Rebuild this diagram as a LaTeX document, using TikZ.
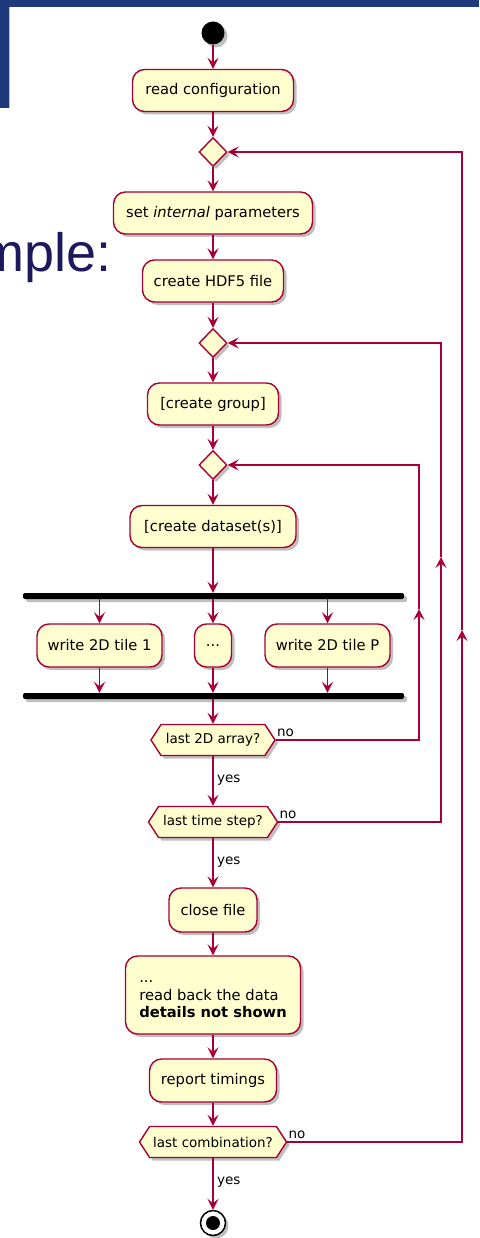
\documentclass[tikz,border=0pt]{standalone}
\usepackage{fontspec}
\setmainfont{DejaVu Sans}
\newfontfamily\slidefont{Liberation Sans}
\usetikzlibrary{shapes.geometric,shapes.symbols,shadows,arrows.meta,calc}

\definecolor{umlred}{HTML}{A80036}
\definecolor{umlfill}{HTML}{FEFECE}
\definecolor{slideblue}{HTML}{1F3A7B}
\definecolor{slideline}{HTML}{AEBFE6}
\definecolor{slidetext}{HTML}{1C1A5C}

\tikzset{
  umlshadow/.style={drop shadow={shadow xshift=3pt, shadow yshift=-3pt, opacity=0.25, fill=black}},
  act/.style={draw=umlred, fill=umlfill, line width=1.4pt, rounded corners=12pt,
    inner sep=0pt, minimum height=42pt, font=\fontsize{14.7}{17.5}\selectfont, umlshadow},
  cond/.style={draw=umlred, fill=umlfill, line width=1.4pt, shape=signal,
    signal to=east and west, signal pointer angle=114, inner sep=0pt,
    minimum height=31pt, font=\fontsize{13.5}{16}\selectfont, umlshadow},
  merge/.style={draw=umlred, fill=umlfill, line width=1.4pt, shape=diamond, aspect=1,
    inner sep=0pt, minimum width=28pt, minimum height=29pt, umlshadow},
  syncbar/.style={fill=black, rounded corners=2pt, minimum height=6pt,
    minimum width=381pt, inner sep=0pt, umlshadow},
  startdot/.style={circle, fill=black, minimum size=23pt, inner sep=0pt, umlshadow},
  stopring/.style={circle, draw=black, fill=white, line width=1.5pt, minimum size=25pt,
    inner sep=0pt, umlshadow},
  stopdot/.style={circle, fill=black, minimum size=14pt, inner sep=0pt},
  flow/.style={draw=umlred, line width=1.6pt,
    -{Stealth[length=11pt,width=11pt,inset=4.5pt]}},
  lbl/.style={font=\fontsize{13.5}{16}\selectfont, inner sep=0pt},
}

\begin{document}
\begin{tikzpicture}[x=1pt, y=-1pt]
\useasboundingbox (0,0) rectangle (479,1238);

% slide frame and heading behind the chart
\fill[slideblue] (0,0) rectangle (479,7);
\fill[slideblue] (0,0) rectangle (8.5,108);
\fill[slideline] (8.5,7) rectangle (10,108);
\node[font=\slidefont\fontsize{54}{60}\selectfont, text=slidetext, anchor=base east,
  inner sep=0pt] (heading) at (112,272) {mple:};

% main column
\node[startdot] (start) at (213,33) {};
\node[act, minimum width=161pt] (readcfg) at (213,90.5) {read configuration};
\node[merge] (m1) at (213,152) {};
\node[act, minimum width=199pt] (setpar) at (213,213) {set \textit{internal} parameters};
\node[act, minimum width=141pt] (mkfile) at (213,281) {create HDF5 file};
\node[merge] (m2) at (213,343) {};
\node[act, minimum width=131pt] (mkgroup) at (213,404) {[create group]};
\node[merge] (m3) at (213,465) {};
\node[act, minimum width=166pt] (mkdset) at (213,526.5) {[create dataset(s)]};

% parallel tile writes
\node[syncbar] (fork) at (213.5,596) {};
\node[act, minimum width=125pt, minimum height=43pt] (tile1) at (99.5,645.5) {write 2D tile 1};
\node[act, minimum width=37pt, minimum height=43pt] (tiledots) at (213,645.5) {...};
\node[act, minimum width=125pt, minimum height=43pt] (tileP) at (327.5,645.5) {write 2D tile P};
\node[syncbar] (join) at (213.5,696) {};

\node[cond, minimum width=124pt] (lastarr) at (213,740) {last 2D array?};
\node[cond, minimum width=129pt] (laststep) at (213,822) {last time step?};
\node[act, minimum width=88pt, minimum height=44pt] (close) at (213,910) {close file};
\node[act, minimum width=175pt, minimum height=78pt, align=left] (readback) at (213,995)
  {\rule{0pt}{11pt}...\\read back the data\\\textbf{details not shown}};
\node[act, minimum width=127pt, minimum height=43pt] (timings) at (213,1080.5) {report timings};
\node[cond, minimum width=147pt] (lastcomb) at (213,1142) {last combination?};
\node[stopring] (stop) at (213,1223) {};
\node[stopdot] (stopcore) at (stop.center) {};

% straight flow
\draw[flow] (start) -- (readcfg);
\draw[flow] (readcfg) -- (m1);
\draw[flow] (m1) -- (setpar);
\draw[flow] (setpar) -- (mkfile);
\draw[flow] (mkfile) -- (m2);
\draw[flow] (m2) -- (mkgroup);
\draw[flow] (mkgroup) -- (m3);
\draw[flow] (m3) -- (mkdset);
\draw[flow] (mkdset) -- (mkdset |- fork.north);
\foreach \t in {tile1,tiledots,tileP}{
  \draw[flow] (\t |- fork.south) -- (\t);
  \draw[flow] (\t) -- (\t |- join.north);
}
\draw[flow] (lastarr |- join.south) -- (lastarr);
\draw[flow] (lastarr) -- (laststep);
\draw[flow] (laststep) -- (close);
\draw[flow] (close) -- (readback);
\draw[flow] (readback) -- (timings);
\draw[flow] (timings) -- (lastcomb);
\draw[flow] (lastcomb) -- (stop);

% loop-backs
\coordinate (up3) at (419,609);
\coordinate (up2) at (441,557);
\coordinate (up1) at (462,630);
\draw[flow] (lastarr.east) -| (up3);
\draw[flow] (up3) |- (m3.east);
\draw[flow] (laststep.east) -| (up2);
\draw[flow] (up2) |- (m2.east);
\draw[flow] (lastcomb.east) -| (up1);
\draw[flow] (up1) |- (m1.east);

% branch labels
\node[lbl, anchor=base west] (no1) at ([xshift=1pt,yshift=4pt]lastarr.east) {no};
\node[lbl, anchor=base west] (no2) at ([xshift=1pt,yshift=4pt]laststep.east) {no};
\node[lbl, anchor=base west] (no3) at ([xshift=1pt,yshift=4pt]lastcomb.east) {no};
\node[lbl, anchor=base west] (yes1) at ([xshift=4pt,yshift=-26pt]lastarr.south) {yes};
\node[lbl, anchor=base west] (yes2) at ([xshift=4pt,yshift=-26pt]laststep.south) {yes};
\node[lbl, anchor=base west] (yes3) at ([xshift=4pt,yshift=-26pt]lastcomb.south) {yes};
\end{tikzpicture}
\end{document}
